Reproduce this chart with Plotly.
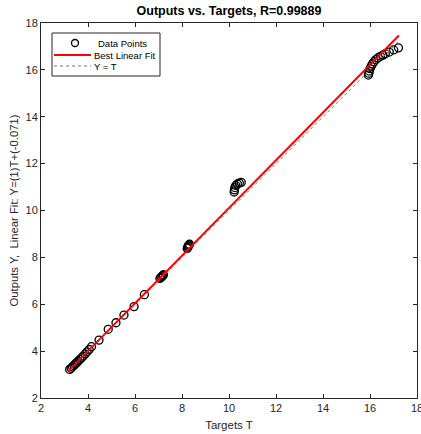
import plotly.graph_objects as go

# Targets and outputs
targets = [3.22, 3.28, 3.34, 3.40, 3.46, 3.52, 3.58, 3.65, 3.72, 3.80, 3.88, 3.96, 4.05, 4.15,
           4.47, 4.86, 5.19, 5.53, 5.96, 6.40,
           7.06, 7.10, 7.14, 7.18, 7.21,
           8.22, 8.24, 8.26, 8.28, 8.30, 8.32,
           10.22, 10.23, 10.25, 10.29, 10.36, 10.44, 10.52,
           15.93, 15.95, 15.97, 16.00, 16.05, 16.10, 16.17, 16.25, 16.35, 16.45, 16.55,
           16.65, 16.82, 17.01, 17.21]
outputs = [3.22, 3.27, 3.33, 3.39, 3.45, 3.51, 3.57, 3.64, 3.71, 3.79, 3.88, 3.97, 4.07, 4.19,
           4.47, 4.93, 5.21, 5.54, 5.90, 6.41,
           7.10, 7.14, 7.18, 7.22, 7.26,
           8.38, 8.42, 8.46, 8.50, 8.53, 8.56,
           10.79, 10.88, 10.98, 11.07, 11.13, 11.17, 11.20,
           15.78, 15.86, 15.95, 16.05, 16.15, 16.25, 16.35, 16.44, 16.52, 16.58, 16.63,
           16.69, 16.76, 16.85, 16.94]

fit_slope = 1.018
fit_intercept = -0.071
fit_range = [min(targets + outputs) - 0.05, max(targets + outputs) + 0.02]
title_text = "Outputs vs. Targets, R=0.99889"
x_label = "Targets T"
y_label = "Outputs Y,  Linear Fit: Y=(1)T+(-0.071)"
tick_vals = [2, 4, 6, 8, 10, 12, 14, 16, 18]
legend_labels = ["Data Points", "Best Linear Fit", "Y = T"]

fit_y = [fit_slope * v + fit_intercept for v in fit_range]

FONT = "Liberation Sans, Arial"
AX = "#262626"

fig = go.Figure()
fig.add_trace(go.Scatter(
    x=targets, y=outputs, mode="markers", name=legend_labels[0],
    marker=dict(symbol="circle-open", size=8, color="black", line=dict(width=1.3, color="black"))))
fig.add_trace(go.Scatter(
    x=fit_range, y=fit_range, mode="lines", name=legend_labels[2],
    line=dict(color="#777777", width=1, dash="dot")))
fig.add_trace(go.Scatter(
    x=fit_range, y=fit_y, mode="lines", name=legend_labels[1],
    line=dict(color="#ff0000", width=2)))

axis_common = dict(
    range=[2, 18], tickvals=tick_vals, showgrid=False, zeroline=False,
    showline=True, linecolor=AX, linewidth=1, mirror="ticks",
    ticks="inside", ticklen=4, tickcolor=AX, automargin=False,
    ticklabeloverflow="allow",
    tickfont=dict(family=FONT, size=11, color=AX))

# Legend drawn in the axes' domain coordinates (pixel positions -> domain fractions)
def dx(px):
    return (px - 41) / 376.0

def dy(py):
    return (398 - py) / 375.0

shapes = [
    dict(type="rect", xref="x domain", yref="y domain", x0=dx(52), x1=dx(160), y0=dy(76), y1=dy(33),
         line=dict(color=AX, width=1), fillcolor="white", layer="above"),
    dict(type="circle", xref="x domain", yref="y domain", xsizemode="pixel", ysizemode="pixel",
         xanchor=dx(75), yanchor=dy(43), x0=-3.5, x1=3.5, y0=-3.5, y1=3.5,
         line=dict(color="black", width=1.3), layer="above"),
    dict(type="line", xref="x domain", yref="y domain", x0=dx(54), x1=dx(91), y0=dy(55), y1=dy(55),
         line=dict(color="#ff0000", width=2), layer="above"),
    dict(type="line", xref="x domain", yref="y domain", x0=dx(54), x1=dx(91), y0=dy(66), y1=dy(66),
         line=dict(color="#777777", width=1, dash="dot"), layer="above"),
]
annotations = [
    dict(text=legend_labels[0], xref="x domain", yref="y domain", x=dx(96), y=dy(43),
         xanchor="left", yanchor="middle", showarrow=False, font=dict(family=FONT, size=9.5, color="black")),
    dict(text=legend_labels[1], xref="x domain", yref="y domain", x=dx(92), y=dy(55),
         xanchor="left", yanchor="middle", showarrow=False, font=dict(family=FONT, size=9.5, color="black")),
    dict(text=legend_labels[2], xref="x domain", yref="y domain", x=dx(92), y=dy(66),
         xanchor="left", yanchor="middle", showarrow=False, font=dict(family=FONT, size=9.5, color="black")),
]

fig.update_layout(
    width=421, height=434,
    margin=dict(l=41, r=4, t=23, b=36),
    paper_bgcolor="white", plot_bgcolor="white",
    font=dict(family=FONT, color=AX),
    title=dict(text="<b>" + title_text + "</b>", x=0.5, xref="paper", xanchor="center",
               y=1 - 11 / 434, yref="container", yanchor="middle",
               font=dict(family=FONT, size=12.5, color="black")),
    xaxis=dict(title=dict(text=x_label, font=dict(family=FONT, size=11.5, color=AX), standoff=7), **axis_common),
    yaxis=dict(title=dict(text=y_label, font=dict(family=FONT, size=11.3, color=AX), standoff=4), **axis_common),
    showlegend=False,
    shapes=shapes,
    annotations=annotations,
)

fig.write_html("out.html", config={"displayModeBar": False},
               post_script="document.body.style.margin='0';document.body.style.overflow='hidden';")
